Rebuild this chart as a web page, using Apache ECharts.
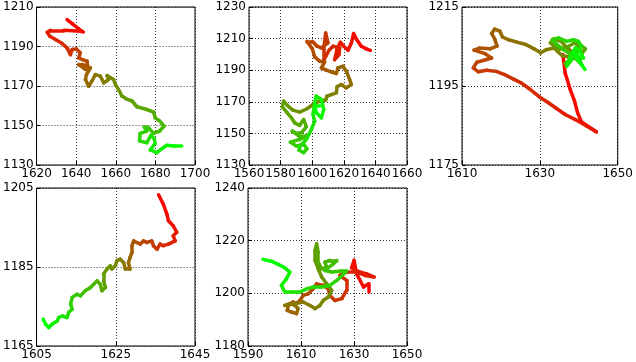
<!DOCTYPE html>
<html>
<head>
<meta charset="utf-8">
<script src="https://cdn.jsdelivr.net/npm/echarts@6/dist/echarts.min.js"></script>
<style>
html, body { margin: 0; padding: 0; background: #fff; }
#tracks { width: 636px; height: 362px; }
</style>
</head>
<body>
<div id="tracks"></div>
<script>

// track 1
var x1 = [1635.4,1638.0,1641.3,1643.5,1640.5,1633.8,1627.0,1625.4,1626.7,1629.6,
    1632.9,1635.4,1637.1,1638.0,1640.1,1642.1,1641.3,1643.0,1645.5,1645.8,
    1643.0,1641.3,1644.7,1647.2,1645.2,1644.7,1646.3,1648.0,1649.7,1652.2,
    1653.9,1656.4,1655.6,1658.9,1659.8,1661.4,1663.1,1665.3,1668.2,1670.7,
    1675.7,1679.1,1679.9,1682.1,1684.4,1682.1,1679.1,1676.5,1674.4,1675.7,
    1672.3,1672.0,1675.7,1677.7,1679.4,1679.9,1677.4,1680.7,1683.3,1685.8,
    1689.1,1693.3];
var y1 = [1203.6,1201.6,1198.9,1197.4,1197.9,1198.2,1198.2,1197.2,1195.2,1193.5,
    1191.5,1189.3,1185.9,1188.5,1188.8,1186.8,1184.2,1183.4,1182.6,1180.0,
    1180.9,1180.9,1178.4,1179.2,1175.8,1173.3,1169.9,1172.5,1175.8,1175.0,
    1171.6,1173.3,1175.3,1173.3,1170.8,1168.2,1164.9,1163.5,1162.4,1159.5,
    1158.1,1156.8,1153.9,1152.3,1149.7,1147.2,1146.0,1148.9,1149.2,1147.2,
    1146.0,1142.2,1141.3,1145.0,1143.3,1141.0,1137.6,1136.3,1138.3,1140.0,
    1139.6,1139.6];

// track 2
var x2 = [1636.8,1634.3,1631.1,1627.9,1626.2,1624.8,1622.7,1619.9,1617.8,1615.7,
    1614.2,1617.0,1617.4,1613.2,1610.6,1608.9,1607.3,1607.3,1608.5,1610.0,
    1605.8,1603.0,1600.1,1596.7,1600.1,1601.6,1604.7,1607.9,1605.8,1608.9,
    1612.7,1615.3,1616.3,1619.5,1621.6,1623.7,1624.8,1621.6,1618.4,1615.7,
    1615.3,1612.1,1609.4,1608.5,1604.7,1600.5,1596.7,1592.1,1587.8,1584.7,
    1581.9,1581.1,1584.1,1586.8,1588.9,1592.1,1594.6,1596.3,1593.1,1590.0,
    1587.4,1592.1,1596.3,1592.1,1586.2,1590.0,1594.6,1596.7,1594.6,1591.6,
    1592.5,1596.3,1599.5,1601.6,1600.5,1601.6,1602.6,1605.8,1607.3,1605.8,
    1602.6,1601.6,1604.7];
var y2 = [1202.6,1203.5,1205.2,1209.8,1213.2,1207.3,1202.6,1205.2,1207.7,1203.1,
    1196.7,1199.9,1204.1,1205.2,1202.6,1199.3,1196.3,1203.1,1213.6,1207.3,
    1204.1,1205.2,1208.3,1208.3,1203.5,1198.4,1195.7,1195.1,1191.5,1190.0,
    1188.7,1187.9,1191.5,1192.5,1189.4,1184.1,1180.9,1178.8,1180.9,1179.5,
    1175.7,1174.6,1173.6,1171.1,1170.4,1168.3,1165.6,1163.5,1164.7,1167.3,
    1170.4,1166.8,1163.1,1159.9,1156.7,1155.1,1158.8,1154.2,1150.4,1150.0,
    1151.5,1147.9,1148.3,1146.2,1144.5,1142.0,1143.1,1140.3,1137.8,1139.5,
    1142.0,1146.2,1152.5,1157.8,1162.0,1169.4,1173.6,1171.5,1165.2,1159.9,
    1163.1,1167.3,1167.3];

// track 3
var x3 = [1635.9,1636.5,1637.8,1638.9,1639.7,1640.7,1644.5,1642.0,1639.1,1636.5,
    1634.0,1632.3,1629.8,1627.3,1625.2,1623.1,1620.9,1618.8,1616.3,1614.2,
    1612.9,1613.8,1616.3,1617.6,1615.9,1613.1,1614.5,1617.2,1619.0,1618.4,
    1617.6,1618.4,1619.7,1620.4,1622.0,1624.1,1626.4,1628.5,1630.2,1631.6,
    1633.6,1635.7,1637.2,1638.4,1636.5,1635.5,1633.6,1632.7,1634.8,1637.5,
    1639.1,1640.1,1640.9,1641.7,1640.1,1639.1,1637.8,1636.5,1638.6,1640.3,
    1640.7,1639.1,1637.4,1636.1,1634.4,1633.2,1634.8,1636.9,1638.6,1639.9,
    1640.7,1639.5,1638.2,1636.9,1637.8,1639.1,1640.3,1641.2,1639.9,1638.6,
    1641.6];
var y3 = [1203.0,1198.3,1194.1,1191.2,1188.2,1185.9,1183.4,1184.9,1186.5,1187.8,
    1189.5,1190.7,1192.3,1194.3,1195.8,1196.8,1197.9,1198.7,1199.0,1198.6,
    1199.6,1201.0,1201.7,1202.1,1203.2,1204.1,1204.6,1204.4,1205.1,1206.9,
    1208.3,1209.4,1208.9,1207.4,1206.7,1206.1,1205.5,1204.4,1203.4,1204.2,
    1204.6,1202.7,1202.4,1203.5,1205.1,1206.3,1206.9,1205.9,1204.2,1205.1,
    1206.1,1204.4,1203.4,1204.4,1205.7,1204.1,1201.3,1200.7,1202.1,1201.7,
    1200.4,1202.1,1203.4,1204.2,1205.5,1206.7,1207.2,1206.3,1206.7,1206.3,
    1205.1,1203.4,1201.7,1200.0,1202.5,1204.6,1203.8,1202.1,1202.5,1203.4,
    1199.2];

// track 4
var x4 = [1635.8,1637.0,1637.9,1638.3,1639.5,1640.4,1639.5,1640.0,1638.3,1637.0,
    1636.2,1635.4,1634.5,1634.1,1632.8,1632.0,1631.2,1630.3,1629.5,1629.1,
    1629.1,1628.6,1628.2,1628.6,1627.4,1627.0,1626.1,1625.3,1624.9,1624.0,
    1623.6,1622.8,1621.9,1621.9,1622.4,1621.5,1621.1,1620.3,1619.4,1618.6,
    1617.3,1616.1,1615.2,1614.0,1613.6,1614.0,1613.1,1612.7,1611.5,1610.6,
    1610.2,1608.9,1608.1,1607.3,1606.7];
var y4 = [1203.3,1200.9,1198.4,1196.7,1195.4,1193.8,1192.9,1191.6,1190.8,1190.4,
    1190.8,1189.5,1190.4,1191.6,1191.2,1191.6,1190.8,1191.2,1191.6,1190.4,
    1188.7,1187.4,1186.1,1184.5,1184.5,1186.1,1187.0,1186.6,1185.3,1184.5,
    1185.3,1184.5,1183.2,1181.5,1179.8,1179.0,1180.6,1181.5,1180.6,1179.8,
    1179.0,1177.7,1178.1,1177.3,1175.6,1174.3,1173.5,1172.2,1172.6,1172.2,
    1171.3,1170.5,1169.7,1170.5,1171.8];

// track 5
var x5 = [1635.5,1635.5,1633.6,1631.0,1630.0,1629.1,1631.3,1634.8,1637.6,1634.2,
    1631.0,1627.2,1624.7,1627.2,1627.2,1625.4,1622.8,1620.9,1620.3,1618.4,
    1615.9,1614.6,1612.7,1610.8,1609.6,1608.3,1607.0,1605.2,1604.8,1606.4,
    1608.3,1608.9,1607.7,1605.8,1603.9,1610.8,1613.4,1615.3,1617.1,1618.4,
    1620.3,1621.6,1619.7,1617.8,1616.5,1615.3,1615.3,1615.9,1616.5,1616.5,
    1617.8,1619.7,1619.0,1620.9,1623.5,1622.2,1619.0,1621.6,1624.7,1627.2,
    1623.5,1620.9,1617.8,1614.6,1612.1,1609.6,1607.0,1603.9,1602.6,1604.5,
    1605.8,1603.9,1601.4,1598.8,1595.7];
var y5 = [1200.5,1203.6,1202.4,1207.4,1212.5,1209.7,1208.4,1207.4,1206.2,1206.8,
    1208.1,1208.1,1206.8,1204.9,1201.1,1198.0,1197.3,1199.2,1201.7,1203.0,
    1203.6,1201.7,1199.8,1199.2,1197.3,1196.1,1196.7,1195.4,1193.5,1192.9,
    1192.3,1194.2,1195.4,1196.1,1195.4,1196.7,1195.4,1194.2,1195.4,1197.3,
    1198.6,1201.1,1203.6,1206.2,1209.3,1212.5,1216.3,1218.8,1215.6,1211.8,
    1209.3,1209.9,1211.8,1212.5,1212.5,1211.2,1208.7,1208.1,1208.4,1208.4,
    1204.9,1203.0,1202.4,1202.4,1201.7,1200.5,1200.5,1200.5,1203.0,1205.5,
    1208.1,1209.7,1211.0,1212.2,1212.9];

// axis ranges [xmin, xmax, ymin, ymax]
var ranges = [
    [1620, 1700, 1130, 1210],
    [1560, 1660, 1130, 1230],
    [1610, 1650, 1175, 1215],
    [1605, 1645, 1165, 1205],
    [1590, 1650, 1180, 1240]
];
var tickStep = 20;

var grids = [
    {left: 36, top: 7, width: 159, height: 158},
    {left: 249, top: 7, width: 158, height: 158},
    {left: 462, top: 7, width: 158, height: 158},
    {left: 36, top: 188, width: 159, height: 158},
    {left: 248, top: 188, width: 159, height: 158}
];

var tracksMap = echarts.init(document.getElementById('tracks'));

// red at the start of the track, green at the end
var buildSegments = function (xs, ys) {
    var res = [];
    var n = xs.length;
    for (var i = 0; i < n - 1; i++) {
        var t = i / (n - 2);
        var r = Math.round(255 * (1 - t));
        var g = Math.round(255 * t);
        res.push({
            coords: [[xs[i], ys[i]], [xs[i + 1], ys[i + 1]]],
            lineStyle: {color: 'rgb(' + r + ',' + g + ',0)'}
        });
    }
    return res;
};

var tracks = [[x1, y1], [x2, y2], [x3, y3], [x4, y4], [x5, y5]];

var option;
function setOption() {
    var gridList = [], xAxes = [], yAxes = [], series = [];
    for (var i = 0; i < tracks.length; i++) {
        gridList.push({
            left: grids[i].left, top: grids[i].top,
            width: grids[i].width, height: grids[i].height,
            show: true, borderColor: '#000', borderWidth: 1,
            backgroundColor: '#fff'
        });
        var axisCommon = {
            type: 'value',
            gridIndex: i,
            interval: tickStep,
            axisLine: {show: false},
            axisTick: {show: true, inside: true, length: 4, lineStyle: {color: '#000'}},
            splitLine: {show: true, lineStyle: {color: '#000', type: [1, 2], width: 1, opacity: 0.8}},
            axisLabel: {
                color: '#000', fontSize: 12, fontFamily: 'DejaVu Sans',
                showMinLabel: true, showMaxLabel: true, margin: 3,
                formatter: function (v) { return String(v); }
            }
        };
        xAxes.push(Object.assign({}, axisCommon, {
            min: ranges[i][0], max: ranges[i][1]
        }));
        yAxes.push(Object.assign({}, axisCommon, {
            min: ranges[i][2], max: ranges[i][3]
        }));
        series.push({
            type: 'lines',
            coordinateSystem: 'cartesian2d',
            xAxisIndex: i,
            yAxisIndex: i,
            polyline: false,
            silent: true,
            lineStyle: {width: 3.5, opacity: 1, cap: 'round', join: 'round'},
            data: buildSegments(tracks[i][0], tracks[i][1])
        });
    }
    option = {
        backgroundColor: '#fff',
        animation: false,
        grid: gridList,
        xAxis: xAxes,
        yAxis: yAxes,
        series: series
    };
}

setOption();
tracksMap.setOption(option);

</script>
</body>
</html>
